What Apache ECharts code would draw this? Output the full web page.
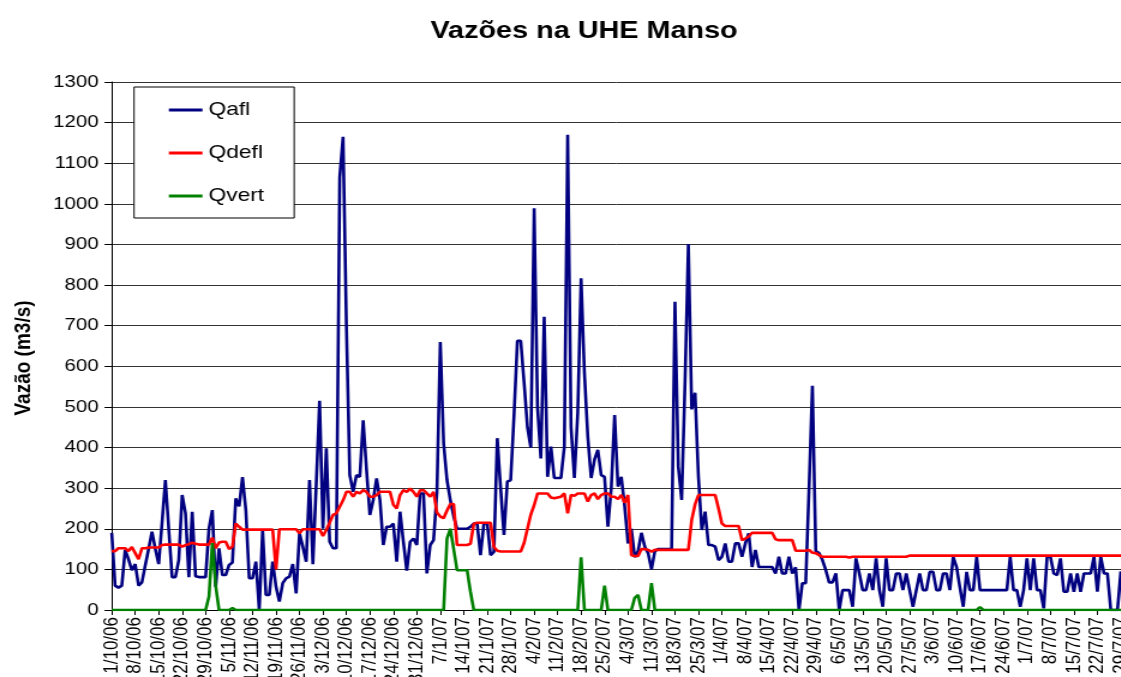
<!DOCTYPE html>
<html><head><meta charset="utf-8">
<script src="https://cdn.jsdelivr.net/npm/echarts@6/dist/echarts.min.js"></script>
<style>
html,body{margin:0;padding:0;background:#fff;overflow:hidden;}
#wrap{width:1121px;height:677px;overflow:hidden;position:relative;background:#fff;}
#chart{width:934px;height:677px;transform:scaleX(1.2);transform-origin:0 0;}
</style></head><body><div id="wrap"><div id="chart"></div></div>
<script>
// Daily series, 1/10/06 .. 29/7/07
const qafl = [
190,60,55,60,148,125,98,113,60,68,
110,150,193,150,113,215,320,200,81,81,
123,283,238,81,242,83,81,81,81,201,
246,57,152,86,86,111,117,275,255,327,
246,78,78,119,0,197,37,37,119,57,
21,66,78,82,113,41,189,156,119,320,
113,310,515,200,398,168,152,152,1065,1165,
700,332,291,332,328,467,345,234,271,324,
271,160,205,205,213,119,242,168,97,168,
176,160,287,287,90,160,172,290,660,410,
320,270,230,200,200,200,200,205,213,213,
135,213,213,135,143,423,300,185,316,320,
480,663,663,560,450,400,989,500,373,722,
328,402,325,325,325,402,1170,451,325,485,
817,583,427,325,370,394,332,328,205,300,
480,304,328,255,164,200,130,145,190,156,
140,100,145,150,150,150,150,150,759,353,
271,560,901,494,535,328,197,242,160,160,
156,123,131,164,119,119,164,164,131,164,
189,106,148,106,106,106,106,106,90,131,
90,90,131,90,105,0,66,66,300,552,
145,140,123,98,68,68,90,0,49,49,
49,8,127,90,49,49,90,49,127,49,
8,127,49,49,90,90,49,90,49,8,
49,90,49,49,94,94,49,49,90,90,
49,131,106,55,8,94,49,49,131,49,
49,49,49,49,49,49,49,49,131,49,
49,8,49,127,49,127,49,49,4,131,
131,90,86,127,45,45,90,45,90,45,
90,90,90,131,45,131,90,90,0,0,
0,95
];
const qdefl = [
145,145,152,152,152,145,155,140,125,152,
152,154,154,154,154,160,161,161,161,161,
161,156,160,162,166,163,161,161,161,161,
178,152,166,168,168,150,156,213,205,198,
198,198,198,198,198,198,198,198,198,100,
199,199,199,199,199,199,189,199,199,199,
199,199,199,182,197,215,234,238,254,270,
291,291,279,291,287,295,291,279,279,283,
291,291,291,291,259,250,283,295,291,299,
291,279,295,295,287,279,291,240,230,226,
245,261,261,160,160,160,160,163,212,215,
215,215,215,215,155,146,144,144,144,144,
144,144,144,165,200,235,258,287,287,287,
287,277,275,277,279,287,238,283,281,287,
287,287,267,283,287,273,283,287,287,279,
279,273,283,264,283,135,133,133,150,150,
148,144,148,148,148,148,148,148,148,148,
148,148,148,222,260,283,283,283,283,283,
283,250,213,207,207,207,207,207,172,176,
181,190,190,190,190,190,190,190,174,172,
172,172,172,172,146,146,146,146,148,141,
140,135,131,131,131,131,131,131,131,131,
129,131,131,131,131,131,131,131,131,131,
131,131,131,131,131,131,131,131,134,134,
134,134,134,134,134,134,134,134,134,134,
134,134,134,134,134,134,134,134,134,134,
134,134,134,134,134,134,134,134,134,134,
134,134,134,134,134,134,134,134,134,134,
134,134,134,134,134,134,134,134,134,134,
134,134,134,134,134,134,134,134,134,134,
134,134
];
const qvert = [
0,0,0,0,0,0,0,0,0,0,
0,0,0,0,0,0,0,0,0,0,
0,0,0,0,0,0,0,0,0,33,
165,60,0,0,0,0,5,0,0,0,
0,0,0,0,0,0,0,0,0,0,
0,0,0,0,0,0,0,0,0,0,
0,0,0,0,0,0,0,0,0,0,
0,0,0,0,0,0,0,0,0,0,
0,0,0,0,0,0,0,0,0,0,
0,0,0,0,0,0,0,0,0,0,
176,200,150,98,98,98,98,45,0,0,
0,0,0,0,0,0,0,0,0,0,
0,0,0,0,0,0,0,0,0,0,
0,0,0,0,0,0,0,0,0,0,
130,0,0,0,0,0,0,60,0,0,
0,0,0,0,0,0,30,37,0,0,
0,66,0,0,0,0,0,0,0,0,
0,0,0,0,0,0,0,0,0,0,
0,0,0,0,0,0,0,0,0,0,
0,0,0,0,0,0,0,0,0,0,
0,0,0,0,0,0,0,0,0,0,
0,0,0,0,0,0,0,0,0,0,
0,0,0,0,0,0,0,0,0,0,
0,0,0,0,0,0,0,0,0,0,
0,0,0,0,0,0,0,0,0,0,
0,0,0,0,0,0,0,0,0,7,
0,0,0,0,0,0,0,0,0,0,
0,0,0,0,0,0,0,0,0,0,
0,0,0,0,0,0,0,0,0,0,
0,0,0,0,0,0,0,0,0,0,
0,0
];
const seriesNames = ['Qafl', 'Qdefl', 'Qvert'];
const seriesColors = ['#000080', '#FF0000', '#008000'];
const titleText = 'Vazões na UHE Manso';
const yAxisTitle = 'Vazão (m3/s)';
// category labels: one per day starting 1/10/06
const categories = qafl.map((_, i) => {
  const d = new Date(2006, 9, 1 + i, 12);
  return d.getDate() + '/' + (d.getMonth() + 1) + '/' + String(d.getFullYear()).slice(2);
});
const FF = "'Liberation Sans', Arial, sans-serif";
const chart = echarts.init(document.getElementById('chart'), null, { renderer: 'canvas' });
chart.setOption({
  animation: false,
  backgroundColor: '#fff',
  title: {
    text: titleText, left: 481.7, top: 14, textAlign: 'center',
    textStyle: { fontFamily: FF, fontSize: 24, fontWeight: 'bold', color: '#000' }
  },
  legend: {
    orient: 'vertical', left: 111.7, top: 87,
    padding: [13, 25, 12, 29], itemGap: 23, itemWidth: 28, itemHeight: 3, icon: 'rect',
    backgroundColor: '#fff', borderColor: '#000', borderWidth: 1,
    textStyle: { fontFamily: FF, fontSize: 19, color: '#000', lineHeight: 20 },
    data: seriesNames
  },
  grid: { left: 93.1, right: 0, top: 82, bottom: 67, containLabel: false, outerBoundsMode: 'none' },
  xAxis: {
    type: 'category', data: categories, boundaryGap: false,
    axisLine: { lineStyle: { color: '#000', width: 1 } },
    axisTick: { interval: 6, length: 5, lineStyle: { color: '#000' } },
    axisLabel: { interval: 6, rotate: 90, fontSize: 17, color: '#000', margin: 7, fontFamily: FF, hideOverlap: false },
    splitLine: { show: false }
  },
  yAxis: {
    type: 'value', min: 0, max: 1300, interval: 100,
    name: yAxisTitle, nameLocation: 'middle', nameGap: 64, nameRotate: 90,
    nameTextStyle: { fontSize: 19, fontWeight: 'bold', color: '#000', fontFamily: FF, padding: [0, 24, 0, 0] },
    axisLine: { show: true, lineStyle: { color: '#000' } },
    axisTick: { show: true, length: 6, lineStyle: { color: '#000' } },
    axisLabel: { fontSize: 17, color: '#000', margin: 11, fontFamily: FF, formatter: v => String(v) },
    splitLine: { lineStyle: { color: '#333', width: 1 } }
  },
  series: [
    { name: seriesNames[0], type: 'line', data: qafl, symbol: 'none', color: seriesColors[0], lineStyle: { width: 2.6, color: seriesColors[0] } },
    { name: seriesNames[1], type: 'line', data: qdefl, symbol: 'none', color: seriesColors[1], lineStyle: { width: 2.6, color: seriesColors[1] } },
    { name: seriesNames[2], type: 'line', data: qvert, symbol: 'none', color: seriesColors[2], lineStyle: { width: 2.6, color: seriesColors[2] } }
  ]
});
</script></body></html>
